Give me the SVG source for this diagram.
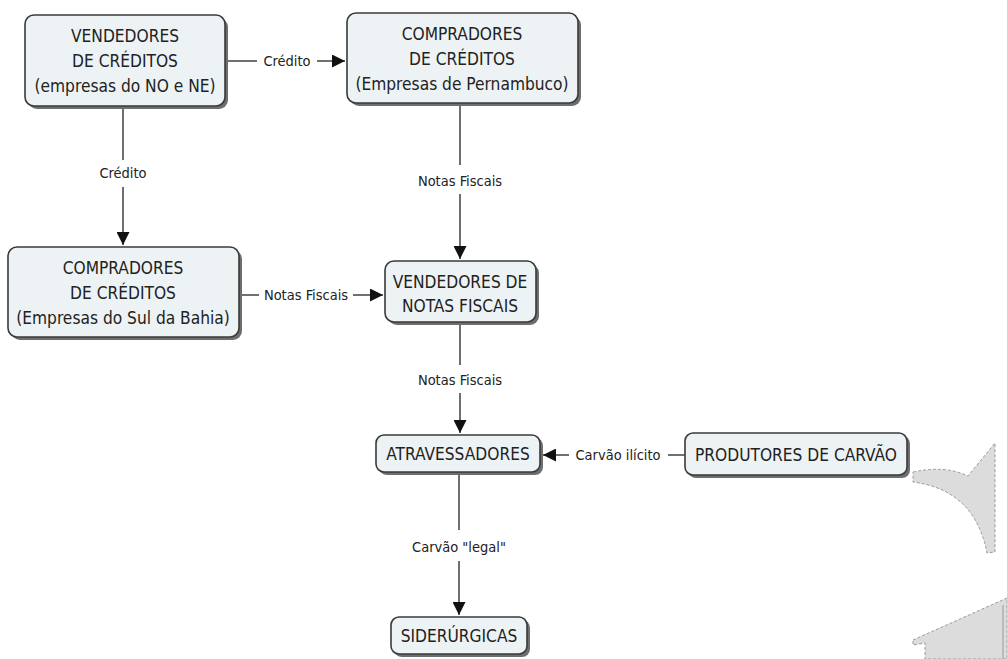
<svg xmlns="http://www.w3.org/2000/svg" width="1007" height="659" viewBox="0 0 1007 659">
<defs>
<style>
.box{fill:#edf3f5;stroke:#3a3a3a;stroke-width:1.6}
.shd{fill:#6e6e6e}
.t{font-family:"DejaVu Sans Condensed","DejaVu Sans",sans-serif;font-size:17.2px;fill:#222;text-anchor:middle}
.l{font-family:"DejaVu Sans Condensed","DejaVu Sans",sans-serif;font-size:14.5px;fill:#222;text-anchor:middle}
.c{stroke:#333;stroke-width:1.4;fill:none}
.deco{fill:#dcdcdc;stroke:#9a9a9a;stroke-width:1;stroke-dasharray:3 2}
</style>
<marker id="ah" viewBox="0 0 10 10" refX="10" refY="5" markerWidth="13" markerHeight="13" markerUnits="userSpaceOnUse" orient="auto">
<path d="M0,0 L10,5 L0,10 Z" fill="#111"/>
</marker>
</defs>
<rect width="1007" height="659" fill="#fff"/>

<g id="connectors">
<line class="c" x1="225" y1="61" x2="257" y2="61"/>
<text class="l" x="287" y="66">Crédito</text>
<line class="c" x1="317" y1="61" x2="345" y2="61" marker-end="url(#ah)"/>

<line class="c" x1="123" y1="106" x2="123" y2="160"/>
<text class="l" x="123" y="178">Crédito</text>
<line class="c" x1="123" y1="187" x2="123" y2="245" marker-end="url(#ah)"/>

<line class="c" x1="460" y1="103" x2="460" y2="165"/>
<text class="l" x="460" y="186">Notas Fiscais</text>
<line class="c" x1="460" y1="194" x2="460" y2="259" marker-end="url(#ah)"/>

<line class="c" x1="239" y1="295" x2="259" y2="295"/>
<text class="l" x="306" y="300">Notas Fiscais</text>
<line class="c" x1="353" y1="295" x2="383" y2="295" marker-end="url(#ah)"/>

<line class="c" x1="460" y1="322" x2="460" y2="365"/>
<text class="l" x="460" y="385">Notas Fiscais</text>
<line class="c" x1="460" y1="393" x2="460" y2="433" marker-end="url(#ah)"/>

<line class="c" x1="685" y1="455" x2="668" y2="455"/>
<text class="l" x="618" y="460">Carvão ilícito</text>
<line class="c" x1="569" y1="455" x2="543" y2="455" marker-end="url(#ah)"/>

<line class="c" x1="459" y1="472" x2="459" y2="530"/>
<text class="l" x="459" y="552">Carvão "legal"</text>
<line class="c" x1="459" y1="561" x2="459" y2="615" marker-end="url(#ah)"/>
</g>

<g id="node-vendedores-creditos">
<rect class="shd" x="28" y="18" width="200" height="91" rx="9"/>
<rect class="box" x="25" y="15" width="200" height="91" rx="9"/>
<text class="t" x="125" y="42">VENDEDORES</text>
<text class="t" x="125" y="67">DE CRÉDITOS</text>
<text class="t" x="125" y="92">(empresas do NO e NE)</text>
</g>

<g id="node-compradores-pernambuco">
<rect class="shd" x="350" y="16" width="231" height="90" rx="9"/>
<rect class="box" x="347" y="13" width="231" height="90" rx="9"/>
<text class="t" x="462" y="40">COMPRADORES</text>
<text class="t" x="462" y="65">DE CRÉDITOS</text>
<text class="t" x="462" y="90">(Empresas de Pernambuco)</text>
</g>

<g id="node-compradores-bahia">
<rect class="shd" x="11" y="250" width="231" height="90" rx="9"/>
<rect class="box" x="8" y="247" width="231" height="90" rx="9"/>
<text class="t" x="123" y="274">COMPRADORES</text>
<text class="t" x="123" y="299">DE CRÉDITOS</text>
<text class="t" x="123" y="324">(Empresas do Sul da Bahia)</text>
</g>

<g id="node-vendedores-notas">
<rect class="shd" x="388" y="264" width="151" height="61" rx="9"/>
<rect class="box" x="385" y="261" width="151" height="61" rx="9"/>
<text class="t" x="460" y="288">VENDEDORES DE</text>
<text class="t" x="460" y="312">NOTAS FISCAIS</text>
</g>

<g id="node-atravessadores">
<rect class="shd" x="379" y="438" width="164" height="37" rx="8"/>
<rect class="box" x="376" y="435" width="164" height="37" rx="8"/>
<text class="t" x="458" y="460">ATRAVESSADORES</text>
</g>

<g id="node-produtores">
<rect class="shd" x="688" y="436" width="222" height="42" rx="8"/>
<rect class="box" x="685" y="433" width="222" height="42" rx="8"/>
<text class="t" x="796" y="461">PRODUTORES DE CARVÃO</text>
</g>

<g id="node-siderurgicas">
<rect class="shd" x="394" y="620" width="136" height="37" rx="8"/>
<rect class="box" x="391" y="617" width="136" height="37" rx="8"/>
<text class="t" x="459" y="642">SIDERÚRGICAS</text>
</g>

<g id="decorations">
<path class="deco" d="M913,472 Q945,465 968,476 L995,443 L995,552 L987,553 Q975,490 913,482 Z"/>
<path class="deco" d="M913,640 L1007,598 L1007,659 L925,659 L925,643 L913,645 Z"/>
<line x1="1003" y1="605" x2="1003" y2="659" stroke="#9a9a9a" stroke-width="1"/>
</g>
</svg>
